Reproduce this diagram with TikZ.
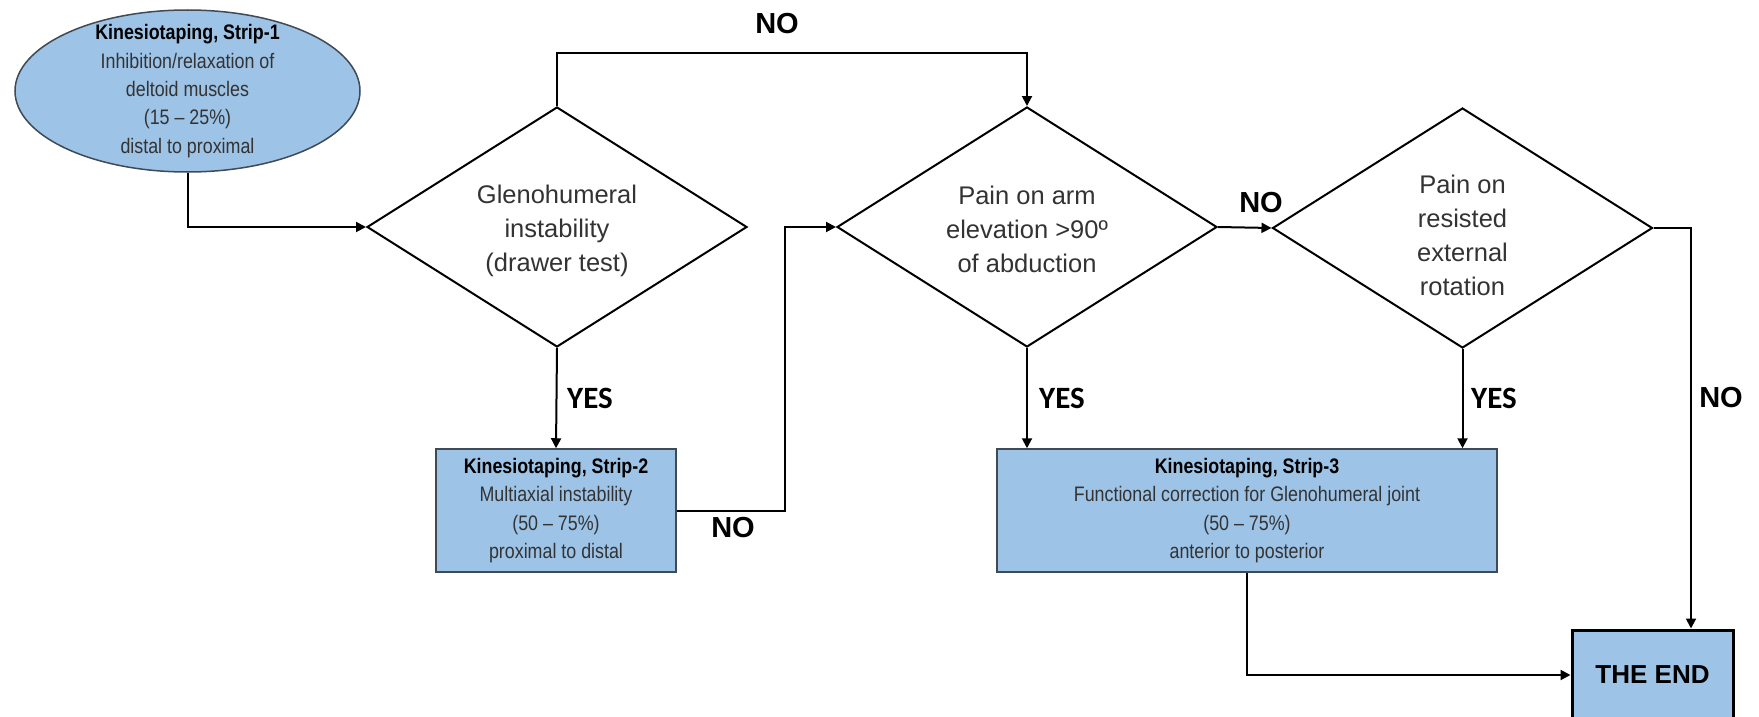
\documentclass[tikz,border=0pt]{standalone}
\usepackage{fontspec}
\setmainfont{Liberation Sans}
\newfontfamily\narrowfont[FakeStretch=0.85]{Liberation Sans}
\newfontfamily\carlitofont{Carlito}
\usetikzlibrary{shapes.geometric,arrows.meta}
\definecolor{tapeblue}{HTML}{9DC3E6}
\definecolor{txtgray}{HTML}{333333}
\definecolor{edgegray}{HTML}{404A55}
\begin{document}
\begin{tikzpicture}[x=1pt,y=-1pt,
  dec/.style={diamond, draw=black, line width=2pt, fill=white, aspect=1.58,
    minimum width=380pt, minimum height=240pt, inner sep=0pt},
  dectext/.style={align=center, text=txtgray, inner sep=0pt,
    font=\fontsize{25.5}{34}\selectfont},
  tape/.style={draw=edgegray, line width=1.5pt, fill=tapeblue},
  tapetext/.style={align=center, text=txtgray, inner sep=0pt,
    font=\narrowfont\fontsize{21}{28.3}\selectfont},
  arr/.style={line width=2pt, -{Triangle[length=10pt,width=10pt]}},
  yes/.style={font=\carlitofont\bfseries\fontsize{31}{31}\selectfont, text=black},
  no/.style={font=\bfseries\fontsize{29}{29}\selectfont, text=black},
]
\clip (0,0) rectangle (1759,717);
\fill[white] (0,0) rectangle (1759,717);

% Strip-1 ellipse
\node[ellipse, tape, minimum width=345pt, minimum height=162pt, inner sep=0pt] (e1) at (187.5,91) {};
\node[tapetext] (e1t) at (e1.center) {{\color{black}\bfseries Kinesiotaping, Strip-1}\\Inhibition/relaxation of\\deltoid muscles\\(15 – 25\%)\\distal to proximal};

% decisions
\node[dec] (d1) at (557,227) {};
\node[dectext] (d1t) at ([yshift=-4pt]d1.center) {Glenohumeral\\instability\\(drawer test)};
\node[dec] (d2) at (1027,227) {};
\node[dectext] (d2t) at ([yshift=-2pt]d2.center) {Pain on arm\\elevation >90º\\of abduction};
\node[dec] (d3) at (1462.5,228) {};
\node[dectext] (d3t) at ([yshift=-7pt]d3.center) {Pain on\\resisted\\external\\rotation};

% Strip-2 and Strip-3 boxes
\node[tape, tapetext, minimum width=240pt, minimum height=123pt] (s2) at (556,510.5)
  {{\color{black}\bfseries Kinesiotaping, Strip-2}\\Multiaxial instability\\(50 – 75\%)\\proximal to distal};
\node[tape, tapetext, minimum width=500pt, minimum height=123pt] (s3) at (1247,510.5)
  {{\color{black}\bfseries Kinesiotaping, Strip-3}\\Functional correction for Glenohumeral joint\\(50 – 75\%)\\anterior to posterior};

% end box
\node[draw=black, line width=3pt, fill=tapeblue, minimum width=161pt, minimum height=90pt,
  font=\bfseries\fontsize{26}{26}\selectfont] (fin) at (1652.5,675) {THE END};

% connectors
\coordinate (topy) at (0,53);
\coordinate (bend) at (785,0);
\draw[arr] (e1.south) |- (d1.west);
\draw[arr] (d1.north) -- (d1.north |- topy) -| (d2.north);
\draw[arr] (d1.south) -- (s2.north);
\draw[arr] (s2.east) -| (bend |- d2.west) -- (d2.west);
\draw[arr] (d2.south) -- (d2.south |- s3.north);
\draw[arr] (d2.east) -- (d3.west);
\draw[arr] (d3.south) -- (d3.south |- s3.north);
\draw[arr] (d3.east) -| ([xshift=38.5pt]fin.north);
\draw[arr] (s3.south) |- (fin.west);

% labels
\node[no] (no1) at (777,24) {NO};
\node[yes] (yes1) at (590,398) {YES};
\node[no] (no2) at (733,528) {NO};
\node[yes] (yes2) at (1062,398) {YES};
\node[no] (no3) at (1261,203) {NO};
\node[yes] (yes3) at (1494,398) {YES};
\node[no] (no4) at (1721,398) {NO};
\end{tikzpicture}
\end{document}
